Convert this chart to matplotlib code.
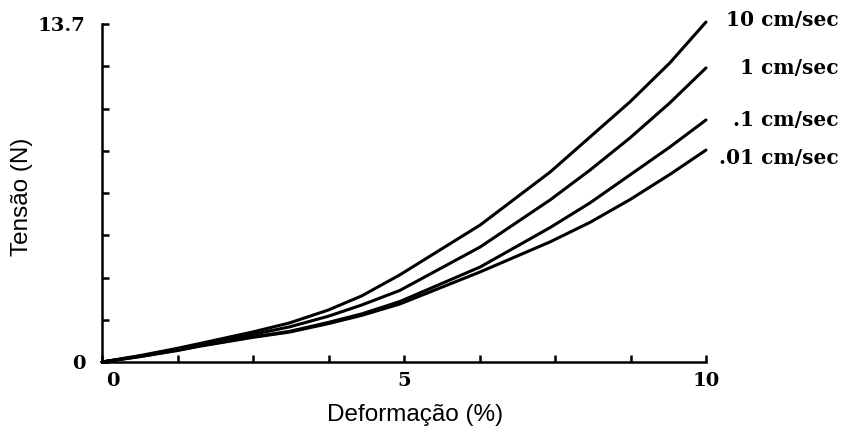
import numpy as np
import matplotlib.pyplot as plt
from matplotlib.transforms import ScaledTranslation

# ---------------------------------------------------------------- #

deform = [0, 0.63, 1.24, 1.62, 2.5, 3.1, 3.74, 4.3, 4.93, 6.26, 7.42, 8.08, 8.74, 9.40, 10]

tension_10  = [0, 0.26, 0.55, 0.75, 1.22, 1.58, 2.10, 2.68, 3.53, 5.55, 7.70, 9.12, 10.54, 12.12, 13.78]
tension_1   = [0, 0.24, 0.52, 0.72, 1.12, 1.42, 1.85, 2.31, 2.90, 4.66, 6.57, 7.78, 9.08, 10.50, 11.92]
tension_01  = [0, 0.22, 0.48, 0.66, 1.02, 1.24, 1.60, 1.95, 2.45, 3.85, 5.45, 6.45, 7.58, 8.71, 9.81]
tension_001 = [0, 0.22, 0.46, 0.64, 1.00, 1.21, 1.55, 1.89, 2.35, 3.65, 4.87, 5.66, 6.58, 7.60, 8.59]

series = [tension_10, tension_1, tension_01, tension_001]
labels = ['10 cm/sec', '1 cm/sec', '.1 cm/sec', '.01 cm/sec']
label_y = [13.86, 11.9, 9.8, 8.27]

x_ticks = np.linspace(0, 10, 9)
x_tick_labels = ['0', '', '', '', '5', '', '', '', '10']
y_ticks = np.linspace(0, 13.7, 9)
y_tick_labels = ['0', '', '', '', '', '', '', '', '13.7']

# ---------------------------------------------------------------- #

fig = plt.figure(figsize = (8.43, 4.33), dpi = 100)
ax = fig.add_axes([102 / 843, 1 - 362 / 433, 604 / 843, 338 / 433])

for values in series:
    ax.plot(deform, values, color = 'black', linewidth = 2.2, clip_on = False,
            solid_capstyle = 'round', solid_joinstyle = 'round')

for label, y in zip(labels, label_y):
    ax.text(12.19, y, label, ha = 'right', va = 'center',
            fontsize = 14.5, fontweight = 'bold', family = 'DejaVu Serif')

ax.set_xlim(0, 10)
ax.set_ylim(0, 13.7)

ax.spines['top'].set_visible(False)
ax.spines['right'].set_visible(False)
ax.spines['left'].set_linewidth(1.8)
ax.spines['bottom'].set_linewidth(1.8)

ax.set_xticks(x_ticks)
ax.set_xticklabels(x_tick_labels)
ax.set_yticks(y_ticks)
ax.set_yticklabels(y_tick_labels)
ax.tick_params(direction = 'in', length = 5, width = 1.8, labelsize = 14)
ax.tick_params(axis = 'x', pad = 7)
ax.tick_params(axis = 'y', pad = 12)
for lab in ax.get_xticklabels() + ax.get_yticklabels():
    lab.set_fontweight('bold')
    lab.set_family('DejaVu Serif')

first = ax.get_xticklabels()[0]
first.set_transform(first.get_transform() + ScaledTranslation(8 / 72, 0, fig.dpi_scale_trans))

ax.set_xlabel('Deformação (%)', fontsize = 17.5, family = 'Liberation Sans')
ax.xaxis.set_label_coords(0.518, -0.125)
ax.set_ylabel('Tensão (N)', fontsize = 17.5, family = 'Liberation Sans')
ax.yaxis.set_label_coords(-0.114, 0.49)

fig.savefig('out.png', dpi = 100)
